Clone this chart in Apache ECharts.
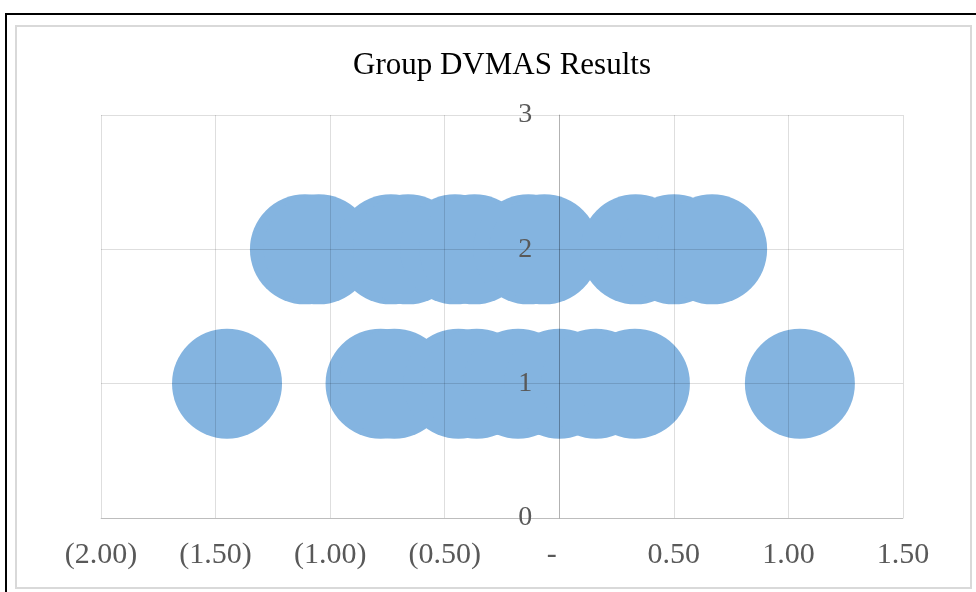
<!DOCTYPE html>
<html>
<head>
<meta charset="utf-8">
<script src="https://cdn.jsdelivr.net/npm/echarts@6/dist/echarts.min.js"></script>
<style>
html,body{margin:0;padding:0;background:#fff;}
#wrap{position:relative;width:976px;height:592px;overflow:hidden;background:#fff;}
#outer{position:absolute;left:5px;top:13px;width:1000px;height:600px;border-left:2px solid #000;border-top:2px solid #000;}
#inner{position:absolute;left:15px;top:25px;width:953px;height:560px;border:2px solid #d9d9d9;}
#chart{position:absolute;left:0;top:0;width:976px;height:592px;}
</style>
</head>
<body>
<div id="wrap">
<div id="outer"></div>
<div id="inner"></div>
<div id="chart"></div>
</div>
<script>
const title = "Group DVMAS Results";
const group1X = [-1.45, -0.78, -0.72, -0.44, -0.36, -0.18, 0.0, 0.16, 0.33, 1.05];
const group1Y = [1, 1, 1, 1, 1, 1, 1, 1, 1, 1];
const group2X = [-1.11, -1.05, -0.735, -0.66, -0.455, -0.37, -0.135, -0.065, 0.333, 0.5, 0.667];
const group2Y = [2, 2, 2, 2, 2, 2, 2, 2, 2, 2, 2];
const xMin = -2, xMax = 1.5, xStep = 0.5;
const yMin = 0, yMax = 3, yStep = 1;

const pts = [];
group1X.forEach((x, i) => pts.push([x, group1Y[i]]));
group2X.forEach((x, i) => pts.push([x, group2Y[i]]));

function fmtX(v) {
  if (Math.abs(v) < 1e-9) return '-\u00a0\u00a0';
  if (v < 0) return '(' + Math.abs(v).toFixed(2) + ')';
  return v.toFixed(2);
}

const W = 976, gridLeft = 101, gridRight = 73;
const gridW = W - gridLeft - gridRight;
// place the y axis at x = 0
const yOffset = -((0 - xMin) / (xMax - xMin)) * gridW;

const chart = echarts.init(document.getElementById('chart'), null, {renderer: 'canvas'});
const font = '"Liberation Serif", "Times New Roman", serif';
chart.setOption({
  animation: false,
  backgroundColor: 'transparent',
  title: {
    text: title, left: 348, top: 45,
    textStyle: {fontFamily: font, fontSize: 31, fontWeight: 'normal', color: '#000'}
  },
  grid: {left: gridLeft, right: gridRight, top: 115, bottom: 74},
  xAxis: {
    type: 'value', min: xMin, max: xMax, interval: xStep, z: 5,
    axisLine: {show: true, onZero: false, lineStyle: {color: 'rgba(0,0,0,0.15)', width: 1}},
    axisTick: {show: false},
    splitLine: {show: true, lineStyle: {color: 'rgba(0,0,0,0.13)', width: 1}},
    axisLabel: {formatter: fmtX, fontFamily: font, fontSize: 30, color: '#595959', margin: 22}
  },
  yAxis: {
    type: 'value', min: yMin, max: yMax, interval: yStep, z: 5,
    position: 'left', offset: yOffset,
    axisLine: {show: true, onZero: false, lineStyle: {color: 'rgba(0,0,0,0.2)', width: 1}},
    axisTick: {show: false},
    splitLine: {show: true, lineStyle: {color: 'rgba(0,0,0,0.13)', width: 1}},
    axisLabel: {fontFamily: font, fontSize: 28, color: '#595959', margin: 27}
  },
  series: [{
    type: 'scatter',
    data: pts,
    symbol: 'circle',
    symbolSize: 110,
    z: 2,
    itemStyle: {color: '#84B4E0', opacity: 1},
    emphasis: {disabled: true}
  }]
});
</script>
</body>
</html>
